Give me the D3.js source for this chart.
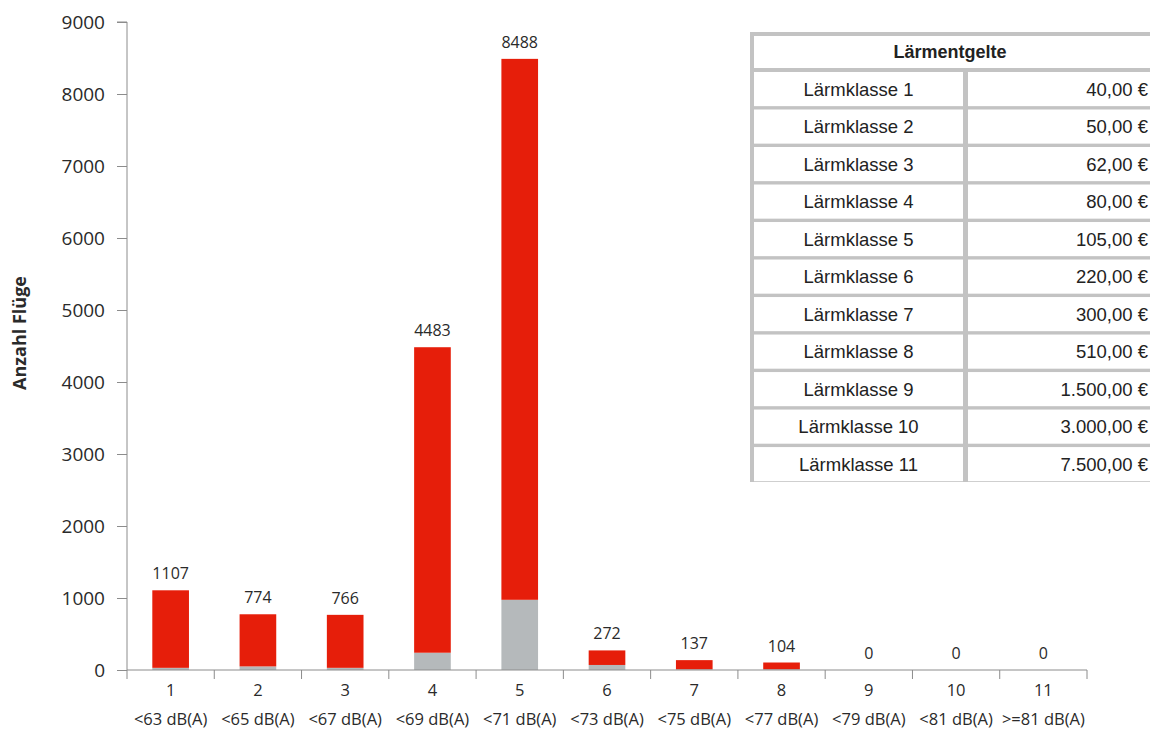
<!DOCTYPE html>
<html><head><meta charset="utf-8">
<script src="https://cdn.jsdelivr.net/npm/d3@7"></script>
<style>body{margin:0;background:#fff}svg{display:block}</style>
</head><body>
<svg id="c" width="1150" height="729"></svg>
<script>
const categories = ["1","2","3","4","5","6","7","8","9","10","11"];
const dbLabels = ["<63 dB(A)","<65 dB(A)","<67 dB(A)","<69 dB(A)","<71 dB(A)","<73 dB(A)","<75 dB(A)","<77 dB(A)","<79 dB(A)","<81 dB(A)",">=81 dB(A)"];
const greyValues = [30, 50, 30, 240, 975, 70, 10, 10, 0, 0, 0];
const redValues = [1077, 724, 736, 4243, 7513, 202, 127, 94, 0, 0, 0];
const totals = [1107, 774, 766, 4483, 8488, 272, 137, 104, 0, 0, 0];
const yTicks = [0,1000,2000,3000,4000,5000,6000,7000,8000,9000];
const tableClasses = ["Lärmklasse 1","Lärmklasse 2","Lärmklasse 3","Lärmklasse 4","Lärmklasse 5","Lärmklasse 6","Lärmklasse 7","Lärmklasse 8","Lärmklasse 9","Lärmklasse 10","Lärmklasse 11"];
const tableFees = ["40,00 €","50,00 €","62,00 €","80,00 €","105,00 €","220,00 €","300,00 €","510,00 €","1.500,00 €","3.000,00 €","7.500,00 €"];

(function(){
const svg = d3.select("#c");
const L = 127, R = 1087, T = 22, B = 670;
const axisColor = "#8c8c8c", textColor = "#2a2a2a";
const RED = "#e61e0a", GREY = "#b5b9bb";
const FONT = "'Open Sans', sans-serif", TFONT = "'Liberation Sans', Arial, sans-serif";

const x = d3.scaleBand().domain(categories).range([L, R]).paddingInner(0.58).paddingOuter(0.29);
const xb = d3.scaleBand().domain(categories).range([L, R]).padding(0);
const y = d3.scaleLinear().domain([0, 9000]).range([B, T]);

const rows = categories.map((c, i) => ({cat: c, grey: greyValues[i], red: redValues[i], total: totals[i]}));
const stacked = d3.stack().keys(["grey","red"])(rows);
const colors = {grey: GREY, red: RED};

svg.append("g").selectAll("g").data(stacked).join("g")
  .attr("fill", d => colors[d.key])
  .selectAll("rect").data(d => d).join("rect")
  .attr("x", d => x(d.data.cat))
  .attr("width", x.bandwidth())
  .attr("y", d => y(d[1]))
  .attr("height", d => y(d[0]) - y(d[1]));

// y axis
const ya = svg.append("g").attr("transform", `translate(${L},0)`)
  .call(d3.axisLeft(y).tickValues(yTicks).tickSize(10).tickPadding(12).tickFormat(d3.format("d")));
ya.select(".domain").attr("stroke", axisColor).attr("d", `M-10,${T}H0V${B}`);
ya.selectAll(".tick line").attr("stroke", axisColor);
ya.selectAll(".tick text").attr("fill", textColor).style("font-family", FONT).style("font-size", "19px");

// x axis line
svg.append("line").attr("x1", L).attr("x2", R).attr("y1", B).attr("y2", B).attr("stroke", axisColor);
const boundaries = categories.map(c => xb(c)).concat([R]);
svg.append("g").selectAll("line").data(boundaries).join("line")
  .attr("x1", d => d).attr("x2", d => d).attr("y1", B).attr("y2", B + 9).attr("stroke", axisColor);

// category labels
svg.append("g").selectAll("text").data(categories).join("text")
  .attr("x", d => x(d) + x.bandwidth()/2).attr("y", 696)
  .attr("text-anchor", "middle").attr("fill", textColor)
  .style("font-family", FONT).style("font-size", "16.5px").text(d => d);
svg.append("g").selectAll("text").data(categories).join("text")
  .attr("x", d => x(d) + x.bandwidth()/2).attr("y", 725)
  .attr("text-anchor", "middle").attr("fill", textColor)
  .style("font-family", FONT).style("font-size", "16.5px").text((d, i) => dbLabels[i]);

// value labels
svg.append("g").selectAll("text").data(rows).join("text")
  .attr("x", d => x(d.cat) + x.bandwidth()/2).attr("y", d => y(d.total) - 11)
  .attr("text-anchor", "middle").attr("fill", textColor)
  .style("font-family", FONT).style("font-size", "16px").text(d => d.total);

// y title
svg.append("text").attr("transform", "translate(26,333) rotate(-90)")
  .attr("text-anchor", "middle").attr("fill", textColor)
  .style("font-family", FONT).style("font-size", "18px").style("font-weight", "bold")
  .text("Anzahl Flüge");

// table
const tx = 750, ty = 32, tw = 404, rowH = 37.2, headH = 36;
const tb = svg.append("g");
tb.append("rect").attr("x", tx).attr("y", ty).attr("width", tw).attr("height", 450).attr("fill", "#c3c3c3");
tb.append("rect").attr("x", tx + 4).attr("y", ty + 4).attr("width", tw - 8).attr("height", headH - 4).attr("fill", "#fff");
tb.append("text").attr("x", 950).attr("y", ty + 4 + (headH - 4)/2 + 6).attr("text-anchor", "middle")
  .attr("fill", "#222").style("font-family", TFONT).style("font-size", "18px").style("font-weight", "bold").text("Lärmentgelte");
const rowY = d3.scaleBand().domain(tableClasses).range([ty + headH + 4, ty + headH + 4 + rowH * tableClasses.length]).paddingInner(0.09).paddingOuter(0);
const colX = [tx + 4, 968], colW = [209, tw - 4 - 968 + tx];
tableClasses.forEach((c, i) => {
  const yy = rowY(c), h = rowY.bandwidth();
  tb.append("rect").attr("x", colX[0]).attr("y", yy).attr("width", colW[0]).attr("height", h).attr("fill", "#fff");
  tb.append("rect").attr("x", colX[1]).attr("y", yy).attr("width", colW[1]).attr("height", h).attr("fill", "#fff");
  tb.append("text").attr("x", colX[0] + colW[0]/2).attr("y", yy + h/2 + 6.5).attr("text-anchor", "middle")
    .attr("fill", "#222").style("font-family", TFONT).style("font-size", "18.5px").text(c);
  tb.append("text").attr("x", 1148).attr("y", yy + h/2 + 6.5).attr("text-anchor", "end")
    .attr("fill", "#222").style("font-family", TFONT).style("font-size", "18.5px").text(tableFees[i]);
});
})();
</script>
</body></html>
